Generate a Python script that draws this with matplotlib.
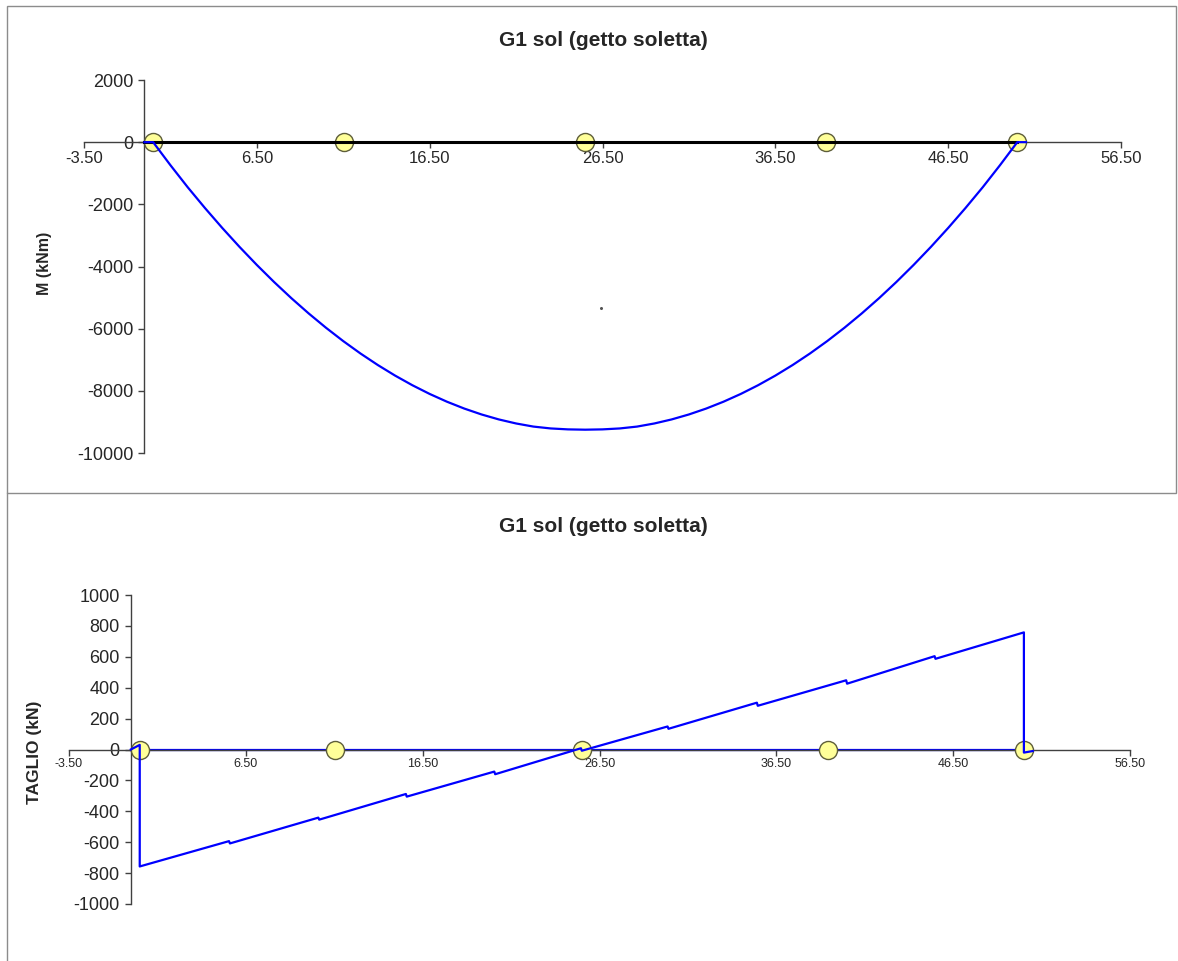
import numpy as np
import matplotlib.pyplot as plt
from matplotlib.patches import Rectangle
from matplotlib.lines import Line2D

plt.rcParams['font.family'] = ['Liberation Sans', 'DejaVu Sans']

#============================================================================#
# DATA
title = 'G1 sol (getto soletta)'

# section points along the beam (yellow markers)
sez_x = [0.5, 11.55, 25.5, 39.45, 50.5]
sez_y = [0, 0, 0, 0, 0]

# beam axis
beam_x = [0, 50.5]
beam_y = [0, 0]

# bending moment M (kNm)
m_x = [0, 0.5, 1.5, 2.5, 3.5, 4.5, 5.5, 6.5, 7.5, 8.5, 9.5, 10.5, 11.5,
       12.5, 13.5, 14.5, 15.5, 16.5, 17.5, 18.5, 19.5, 20.5, 21.5, 22.5,
       23.5, 24.5, 25.5, 26.5, 27.5, 28.5, 29.5, 30.5, 31.5, 32.5, 33.5,
       34.5, 35.5, 36.5, 37.5, 38.5, 39.5, 40.5, 41.5, 42.5, 43.5, 44.5,
       45.5, 46.5, 47.5, 48.5, 49.5, 50.5, 51.0]
m_val = [0, 0, -740, -1450, -2120, -2760, -3370, -3950, -4500, -5020, -5510,
         -5970, -6400, -6800, -7170, -7510, -7820, -8100, -8350, -8570, -8760,
         -8920, -9050, -9150, -9210, -9240, -9250, -9240, -9210, -9150, -9050,
         -8920, -8760, -8570, -8350, -8100, -7820, -7510, -7170, -6800, -6400,
         -5970, -5510, -5020, -4500, -3950, -3370, -2760, -2120, -1450, -740,
         0, 0]
stray_x = [26.4]
stray_y = [-5350]

# shear V (kN)
v_x = [0, 0.5, 0.5, 5.55, 5.6, 10.6, 10.65, 15.55, 15.6, 20.55, 20.6, 25.45,
       25.5, 30.35, 30.4, 35.4, 35.45, 40.45, 40.5, 45.45, 45.5, 50.5, 50.5,
       51.0]
v_val = [0, 30, -757, -593, -608, -441, -454, -288, -305, -143, -160, 8, -8,
         149, 134, 303, 283, 448, 426, 604, 587, 758, -20, -10]

x_ticks = [-3.5, 6.5, 16.5, 26.5, 36.5, 46.5, 56.5]
m_ticks = [2000, 0, -2000, -4000, -6000, -8000, -10000]
v_ticks = [1000, 800, 600, 400, 200, 0, -200, -400, -600, -800, -1000]

#============================================================================#
W, H = 1178, 961
BLUE = '#0000FF'
AXC = '#404040'
TXT = '#262626'
MK_FACE = '#FFFF99'
MK_EDGE = '#5E5E3A'


def fx(px):
    return px / W


def fy(py):
    return 1 - py / H


def style_axes(ax, xlab_size, ylab_size):
    for s in ['top', 'right']:
        ax.spines[s].set_visible(False)
    ax.spines['left'].set_position(('data', 0))
    ax.spines['bottom'].set_position(('data', 0))
    for s in ['left', 'bottom']:
        ax.spines[s].set_color(AXC)
        ax.spines[s].set_linewidth(1.0)
    ax.tick_params(axis='both', direction='out', length=4, width=1.0,
                   color=AXC, labelcolor=TXT)
    ax.tick_params(axis='x', labelsize=xlab_size, pad=2)
    ax.tick_params(axis='y', labelsize=ylab_size, pad=4)
    ax.set_xlim(-3.5, 56.5)
    ax.set_xticks(x_ticks)
    ax.set_xticklabels(['%.2f' % t for t in x_ticks])
    ax.patch.set_alpha(0)


fig = plt.figure(figsize=(W / 100, H / 100), dpi=100)

# panel frames
fig.patches.append(Rectangle((fx(7), fy(493)), fx(1176) - fx(7), fy(6) - fy(493),
                             transform=fig.transFigure, fill=False,
                             edgecolor='#8C8C8C', linewidth=1.0))
fig.add_artist(Line2D([fx(7), fx(7)], [fy(493), 0], transform=fig.transFigure,
                      color='#8C8C8C', linewidth=1.0))

#============================================================================#
# MOMENT
ax1 = fig.add_axes([fx(84), fy(453), fx(1121) - fx(84), fy(80) - fy(453)])
style_axes(ax1, 12, 13)
ax1.set_ylim(-10000, 2000)
ax1.set_yticks(m_ticks)
ax1.set_yticklabels([str(t) for t in m_ticks])

ax1.plot(sez_x, sez_y, 'o', ms=13, mfc=MK_FACE, mec=MK_EDGE, mew=1.0,
         zorder=3)
ax1.plot(beam_x, beam_y, color='black', lw=2.2, zorder=4)
ax1.plot(m_x, m_val, color=BLUE, lw=1.6, zorder=5)
ax1.plot(stray_x, stray_y, 'o', ms=1.2, color='#555555', zorder=5)

fig.text(fx(603), fy(41), title, ha='center', va='center', fontsize=15,
         fontweight='bold', color=TXT)
fig.text(fx(45), fy(263), 'M (kNm)', ha='center', va='center', rotation=90,
         fontsize=11.5, fontweight='bold', color=TXT)

#============================================================================#
# SHEAR
ax2 = fig.add_axes([fx(69), fy(904), fx(1130) - fx(69), fy(595) - fy(904)])
style_axes(ax2, 9, 13)
ax2.set_ylim(-1000, 1000)
ax2.set_yticks(v_ticks)
ax2.set_yticklabels([str(t) for t in v_ticks])

ax2.plot(beam_x, beam_y, color=BLUE, lw=1.6, zorder=2)
ax2.plot(sez_x, sez_y, 'o', ms=13, mfc=MK_FACE, mec=MK_EDGE, mew=1.0,
         zorder=3)
ax2.plot(v_x, v_val, color=BLUE, lw=1.6, zorder=4)

fig.text(fx(603), fy(527), title, ha='center', va='center', fontsize=15,
         fontweight='bold', color=TXT)
fig.text(fx(35), fy(752), 'TAGLIO (kN)', ha='center', va='center',
         rotation=90, fontsize=12.5, fontweight='bold', color=TXT)

fig.savefig('out.png', dpi=100)
